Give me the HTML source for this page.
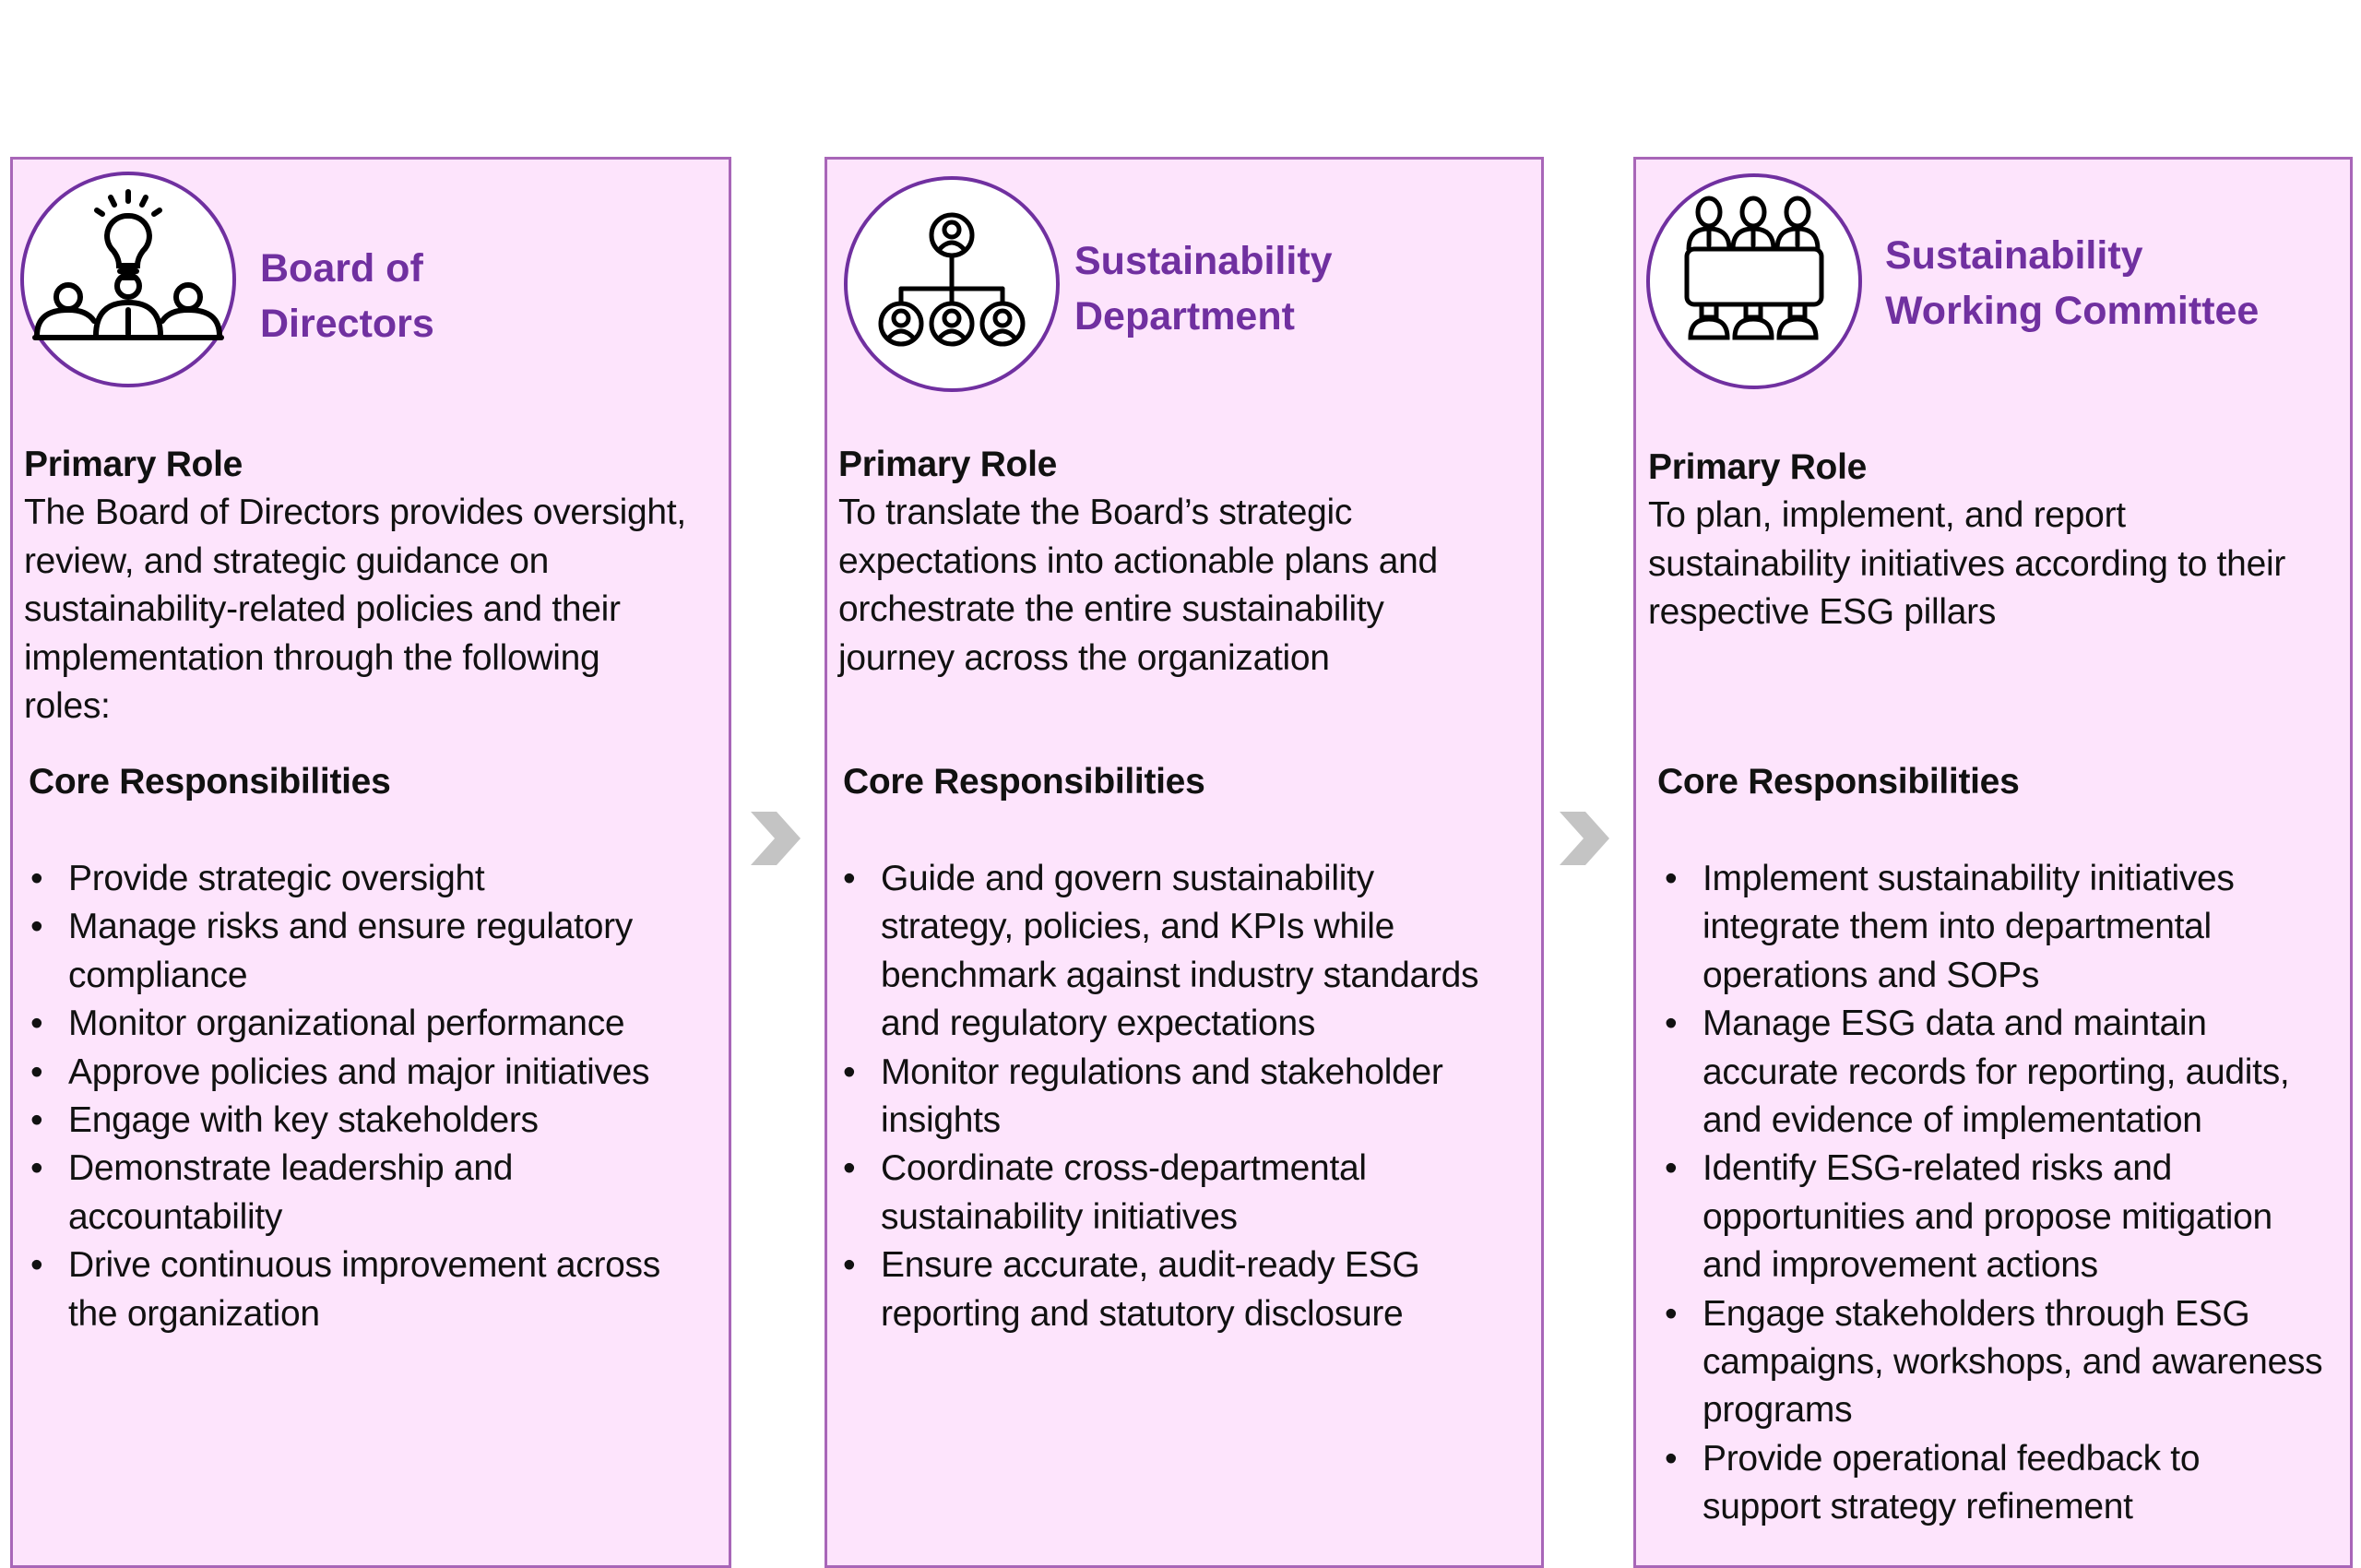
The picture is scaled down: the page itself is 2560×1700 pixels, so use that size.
<!DOCTYPE html>
<html><head><meta charset="utf-8"><style>
*{margin:0;padding:0;box-sizing:border-box}
body{width:2560px;height:1690px;background:#fff;position:relative;overflow:hidden;font-family:"Liberation Sans",sans-serif;color:#111}
.panel{position:absolute;top:170px;height:1530px;background:#fde4fc;border:3px solid #a866b8}
.circ{position:absolute;width:234px;height:234px;border-radius:50%;background:#fff;border:4px solid #7030a0}
.title{position:absolute;font-weight:bold;color:#7030a0;font-size:43px;line-height:60px;white-space:nowrap}
.t{position:absolute;font-size:39px;line-height:52.4px;white-space:nowrap;letter-spacing:-0.3px}
.b{font-weight:bold}
.li{position:relative}
.li:before{content:"•";position:absolute;left:-41px}
.chev{position:absolute;top:878px}
</style></head><body>

<div class="panel" style="left:11px;width:782px"></div>
<div class="panel" style="left:894px;width:780px"></div>
<div class="panel" style="left:1771px;width:780px"></div>

<svg class="chev" style="left:812px" width="58" height="62" viewBox="0 0 58 62"><polygon points="2,2 30,2 56,31 30,60 2,60 28,31" fill="#c4c4c4"/></svg>
<svg class="chev" style="left:1689px" width="58" height="62" viewBox="0 0 58 62"><polygon points="2,2 30,2 56,31 30,60 2,60 28,31" fill="#c4c4c4"/></svg>

<div class="circ" style="left:22px;top:186px"></div>
<svg style="position:absolute;left:22px;top:186px" width="234" height="234" viewBox="0 0 234 234" fill="none" stroke="#000" stroke-width="6" stroke-linecap="round">
 <line x1="117" y1="22" x2="117" y2="32"/><line x1="98" y1="28" x2="102" y2="36"/><line x1="136" y1="28" x2="132" y2="36"/><line x1="83" y1="42" x2="89" y2="46"/><line x1="151" y1="42" x2="145" y2="46"/>
 <path d="M117 48 a22 22 0 0 1 16 38 q-6 8 -6 16 h-20 q0 -8 -6 -16 a22 22 0 0 1 16 -38z"/>
 <line x1="108" y1="108" x2="126" y2="108"/><line x1="110" y1="115" x2="124" y2="115"/>
 <circle cx="117" cy="124" r="12"/>
 <circle cx="52" cy="136" r="13"/><circle cx="182" cy="136" r="13"/>
 <path d="M18 178 q0 -28 34 -28 q20 0 28 12"/><path d="M216 178 q0 -28 -34 -28 q-20 0 -28 12"/>
 <path d="M82 178 q0 -36 35 -36 q35 0 35 36"/><line x1="117" y1="150" x2="117" y2="176"/>
 <line x1="16" y1="180" x2="218" y2="180"/>
</svg>

<div class="circ" style="left:915px;top:191px"></div>
<svg style="position:absolute;left:915px;top:191px" width="234" height="234" viewBox="0 0 234 234" fill="none" stroke="#000" stroke-width="5" stroke-linecap="round">
 <circle cx="117" cy="64" r="22"/><circle cx="117" cy="58" r="8"/><path d="M103 80 q14 -16 28 0"/>
 <line x1="117" y1="86" x2="117" y2="122"/><line x1="62" y1="122" x2="172" y2="122"/>
 <line x1="62" y1="122" x2="62" y2="138"/><line x1="117" y1="122" x2="117" y2="138"/><line x1="172" y1="122" x2="172" y2="138"/>
 <circle cx="62" cy="160" r="22"/><circle cx="62" cy="154" r="8"/><path d="M48 176 q14 -16 28 0"/>
 <circle cx="117" cy="160" r="22"/><circle cx="117" cy="154" r="8"/><path d="M103 176 q14 -16 28 0"/>
 <circle cx="172" cy="160" r="22"/><circle cx="172" cy="154" r="8"/><path d="M158 176 q14 -16 28 0"/>
</svg>

<div class="circ" style="left:1785px;top:188px"></div>
<svg style="position:absolute;left:1785px;top:188px" width="234" height="234" viewBox="0 0 234 234" fill="none" stroke="#000" stroke-width="5" stroke-linecap="round">
 <g id="p"><ellipse cx="68" cy="42" rx="12" ry="15"/><path d="M46 82 q0 -22 22 -22 q22 0 22 22"/><line x1="68" y1="62" x2="68" y2="78"/></g>
 <use href="#p" x="48"/><use href="#p" x="96"/>
 <rect x="44" y="82" width="146" height="60" rx="8"/>
 <g id="q"><path d="M60 142 v14 h16 v-14"/><path d="M48 178 q0 -20 20 -20 q20 0 20 20 z"/></g>
 <use href="#q" x="48"/><use href="#q" x="96"/>
</svg>

<div class="title" style="left:282px;top:261px">Board of<br>Directors</div>
<div class="title" style="left:1165px;top:253px">Sustainability<br>Department</div>
<div class="title" style="left:2044px;top:247px">Sustainability<br>Working Committee</div>

<div class="t" style="left:26px;top:478px"><span class="b">Primary Role</span><br>The Board of Directors provides oversight,<br>review, and strategic guidance on<br>sustainability-related policies and their<br>implementation through the following<br>roles:</div>
<div class="t b" style="left:31px;top:822px">Core Responsibilities</div>
<div class="t" style="left:74px;top:927px">
<div class="li">Provide strategic oversight</div>
<div class="li">Manage risks and ensure regulatory<br>compliance</div>
<div class="li">Monitor organizational performance</div>
<div class="li">Approve policies and major initiatives</div>
<div class="li">Engage with key stakeholders</div>
<div class="li">Demonstrate leadership and<br>accountability</div>
<div class="li">Drive continuous improvement across<br>the organization</div>
</div>

<div class="t" style="left:909px;top:478px"><span class="b">Primary Role</span><br>To translate the Board’s strategic<br>expectations into actionable plans and<br>orchestrate the entire sustainability<br>journey across the organization</div>
<div class="t b" style="left:914px;top:822px">Core Responsibilities</div>
<div class="t" style="left:955px;top:927px">
<div class="li">Guide and govern sustainability<br>strategy, policies, and KPIs while<br>benchmark against industry standards<br>and regulatory expectations</div>
<div class="li">Monitor regulations and stakeholder<br>insights</div>
<div class="li">Coordinate cross-departmental<br>sustainability initiatives</div>
<div class="li">Ensure accurate, audit-ready ESG<br>reporting and statutory disclosure</div>
</div>

<div class="t" style="left:1787px;top:481px"><span class="b">Primary Role</span><br>To plan, implement, and report<br>sustainability initiatives according to their<br>respective ESG pillars</div>
<div class="t b" style="left:1797px;top:822px">Core Responsibilities</div>
<div class="t" style="left:1846px;top:927px">
<div class="li">Implement sustainability initiatives<br>integrate them into departmental<br>operations and SOPs</div>
<div class="li">Manage ESG data and maintain<br>accurate records for reporting, audits,<br>and evidence of implementation</div>
<div class="li">Identify ESG-related risks and<br>opportunities and propose mitigation<br>and improvement actions</div>
<div class="li">Engage stakeholders through ESG<br>campaigns, workshops, and awareness<br>programs</div>
<div class="li">Provide operational feedback to<br>support strategy refinement</div>
</div>

</body></html>
